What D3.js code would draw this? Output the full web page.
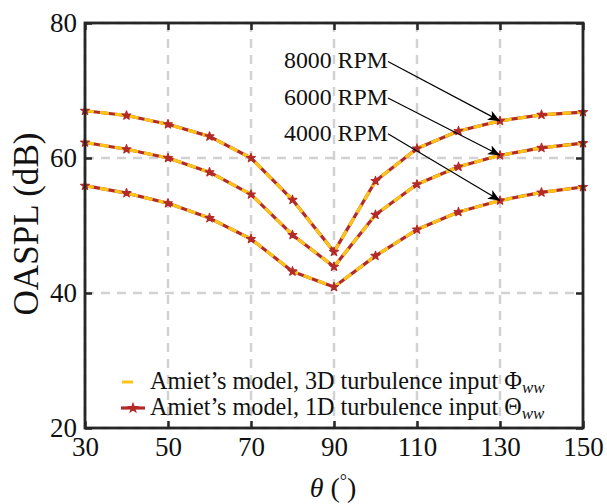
<!DOCTYPE html>
<html>
<head>
<meta charset="utf-8">
<script src="https://cdn.jsdelivr.net/npm/d3@7"></script>
<style>
  html, body { margin: 0; padding: 0; background: #fff; }
  svg { display: block; font-family: "Liberation Serif", "Times New Roman", serif; }
</style>
</head>
<body>
<svg id="chart" width="607" height="504"></svg>
<script>
// ---- data ----
const theta = [30, 40, 50, 60, 70, 80, 90, 100, 110, 120, 130, 140, 150];
const rpm8000 = [67.0, 66.3, 65.0, 63.2, 60.0, 53.8, 46.1, 56.6, 61.4, 64.0, 65.5, 66.4, 66.8];
const rpm6000 = [62.3, 61.3, 60.0, 57.9, 54.6, 48.6, 43.9, 51.6, 56.1, 58.7, 60.4, 61.5, 62.2];
const rpm4000 = [55.9, 54.8, 53.3, 51.1, 48.0, 43.2, 40.9, 45.5, 49.4, 52.0, 53.7, 54.9, 55.7];
const seriesNames = ["8000 RPM", "6000 RPM", "4000 RPM"];
const xTicks = [30, 50, 70, 90, 110, 130, 150];
const yTicks = [20, 40, 60, 80];
const legendLabels = ["Amiet\u2019s model, 3D turbulence input ", "Amiet\u2019s model, 1D turbulence input "];
const legendSymbols = ["\u03A6", "\u0398"];
// annotation arrows: text tail (data coords) -> head at theta=130
const annTail = [[103.0, 74.3], [103.0, 68.9], [103.0, 63.6]];
const annHeadX = [130, 130, 130];

const allSeries = [rpm8000, rpm6000, rpm4000];

const svg = d3.select("#chart");
const x = d3.scaleLinear().domain([30, 150]).range([85, 583]);
const y = d3.scaleLinear().domain([20, 80]).range([428, 23]);

const axisColor = "#262626";
const gridColor = "#d2d2d2";
const red = "#b32b28";
const yellow = "#fdc318";
const serif = "Liberation Serif, serif";

// grid
const grid = svg.append("g");
grid.selectAll("line.vx").data(xTicks).join("line")
  .attr("x1", d => x(d)).attr("x2", d => x(d))
  .attr("y1", y(80)).attr("y2", y(20))
  .attr("stroke", gridColor).attr("stroke-width", 2.5).attr("stroke-dasharray", "9,7");
grid.selectAll("line.hy").data(yTicks).join("line")
  .attr("y1", d => y(d)).attr("y2", d => y(d))
  .attr("x1", x(30)).attr("x2", x(150))
  .attr("stroke", gridColor).attr("stroke-width", 2.5).attr("stroke-dasharray", "9,7");

// series
const line = d3.line().x((d, i) => x(theta[i])).y(d => y(d));
const gS = svg.append("g");
allSeries.forEach(s => {
  gS.append("path").datum(s).attr("d", line)
    .attr("fill", "none").attr("stroke", red).attr("stroke-width", 3.2)
    .attr("stroke-linejoin", "round");
  gS.append("path").datum(s).attr("d", line)
    .attr("fill", "none").attr("stroke", yellow).attr("stroke-width", 3.2)
    .attr("stroke-dasharray", "9,6").attr("stroke-linejoin", "round");
});
const star = d3.symbol().type(d3.symbolStar).size(24);
allSeries.forEach(s => {
  gS.selectAll(null).data(s).join("path")
    .attr("d", star)
    .attr("transform", (d, i) => `translate(${x(theta[i])},${y(d)})`)
    .attr("fill", red).attr("stroke", red).attr("stroke-width", 1.2)
    .attr("stroke-linejoin", "round");
});

// axes
const fs = 27;
function styleAxis(g) {
  g.selectAll(".domain").remove();
  g.selectAll(".tick line").attr("stroke", axisColor).attr("stroke-width", 2.5);
  g.selectAll(".tick text").attr("fill", "#111").attr("font-size", fs)
    .attr("font-family", serif);
}
svg.append("g").attr("transform", `translate(0,${y(20)})`)
  .call(d3.axisBottom(x).tickValues(xTicks).tickSizeInner(-7).tickSizeOuter(0).tickPadding(9))
  .call(styleAxis);
svg.append("g").attr("transform", `translate(0,${y(80)})`)
  .call(d3.axisTop(x).tickValues(xTicks).tickSizeInner(-7).tickSizeOuter(0).tickFormat(""))
  .call(styleAxis);
svg.append("g").attr("transform", `translate(${x(30)},0)`)
  .call(d3.axisLeft(y).tickValues(yTicks).tickSizeInner(-7).tickSizeOuter(0).tickPadding(8))
  .call(styleAxis);
svg.append("g").attr("transform", `translate(${x(150)},0)`)
  .call(d3.axisRight(y).tickValues(yTicks).tickSizeInner(-7).tickSizeOuter(0).tickFormat(""))
  .call(styleAxis);

// frame
svg.append("rect")
  .attr("x", x(30)).attr("y", y(80))
  .attr("width", x(150) - x(30)).attr("height", y(20) - y(80))
  .attr("fill", "none").attr("stroke", axisColor).attr("stroke-width", 2.8);

// fit helper: scale font so text reaches a target width
function fitFont(sel, base, target) {
  sel.attr("font-size", base);
  const w = sel.node().getComputedTextLength();
  sel.attr("font-size", base * target / w);
}

// axis titles
const xt = svg.append("text").attr("x", 333).attr("y", 497)
  .attr("text-anchor", "middle").attr("font-size", 28).attr("fill", "#111")
  .attr("font-family", serif);
xt.append("tspan").attr("font-style", "italic").text("\u03B8");
xt.append("tspan").text(" (");
xt.append("tspan").attr("font-size", 18).attr("dy", -10).text("\u00B0");
xt.append("tspan").attr("dy", 10).text(")");

const yt = svg.append("text")
  .attr("transform", "translate(38,224) rotate(-90)")
  .attr("text-anchor", "middle").attr("fill", "#111").attr("font-family", serif)
  .text("OASPL (dB)");
fitFont(yt, 32, 183);

// annotations
const defs = svg.append("defs");
defs.append("marker").attr("id", "arr").attr("viewBox", "0 0 12 10")
  .attr("refX", 12).attr("refY", 5).attr("markerWidth", 12).attr("markerHeight", 10)
  .attr("markerUnits", "userSpaceOnUse").attr("orient", "auto")
  .append("path").attr("d", "M0,0 L12,5 L0,10 L3,5 Z").attr("fill", "#000");

const ann = svg.append("g");
seriesNames.forEach((name, k) => {
  const tx = x(annTail[k][0]), ty = y(annTail[k][1]);
  const hx = x(annHeadX[k]);
  const hy = y(allSeries[k][theta.indexOf(annHeadX[k])]);
  ann.append("line").attr("x1", tx).attr("y1", ty).attr("x2", hx).attr("y2", hy)
    .attr("stroke", "#000").attr("stroke-width", 1.2).attr("marker-end", "url(#arr)");
  const t = ann.append("text").attr("x", tx).attr("y", ty + 7)
    .attr("text-anchor", "end").attr("fill", "#111").attr("font-family", serif)
    .text(name);
  fitFont(t, 23, 104);
});

// legend
const leg = svg.append("g");
const legY = [382, 408];
leg.append("line").attr("x1", 121).attr("x2", 145).attr("y1", legY[0]).attr("y2", legY[0])
  .attr("stroke", yellow).attr("stroke-width", 3.2).attr("stroke-dasharray", "0,1,11,30");
leg.append("line").attr("x1", 121).attr("x2", 145).attr("y1", legY[1]).attr("y2", legY[1])
  .attr("stroke", red).attr("stroke-width", 3.2);
leg.append("path").attr("d", star).attr("transform", `translate(133,${legY[1]})`)
  .attr("fill", red).attr("stroke", red).attr("stroke-width", 1.2);
legendLabels.forEach((lab, k) => {
  const t = leg.append("text").attr("x", 150).attr("y", legY[k] + 7)
    .attr("fill", "#111").attr("font-family", serif);
  const main = t.append("tspan").text(lab + legendSymbols[k]);
  t.attr("font-size", 21);
  const w = main.node().getComputedTextLength();
  const f = 21 * 372 / w;
  t.attr("font-size", f);
  t.append("tspan").attr("font-style", "italic").attr("font-size", f * 0.7).attr("dy", 4).text("ww");
});
</script>
</body>
</html>
